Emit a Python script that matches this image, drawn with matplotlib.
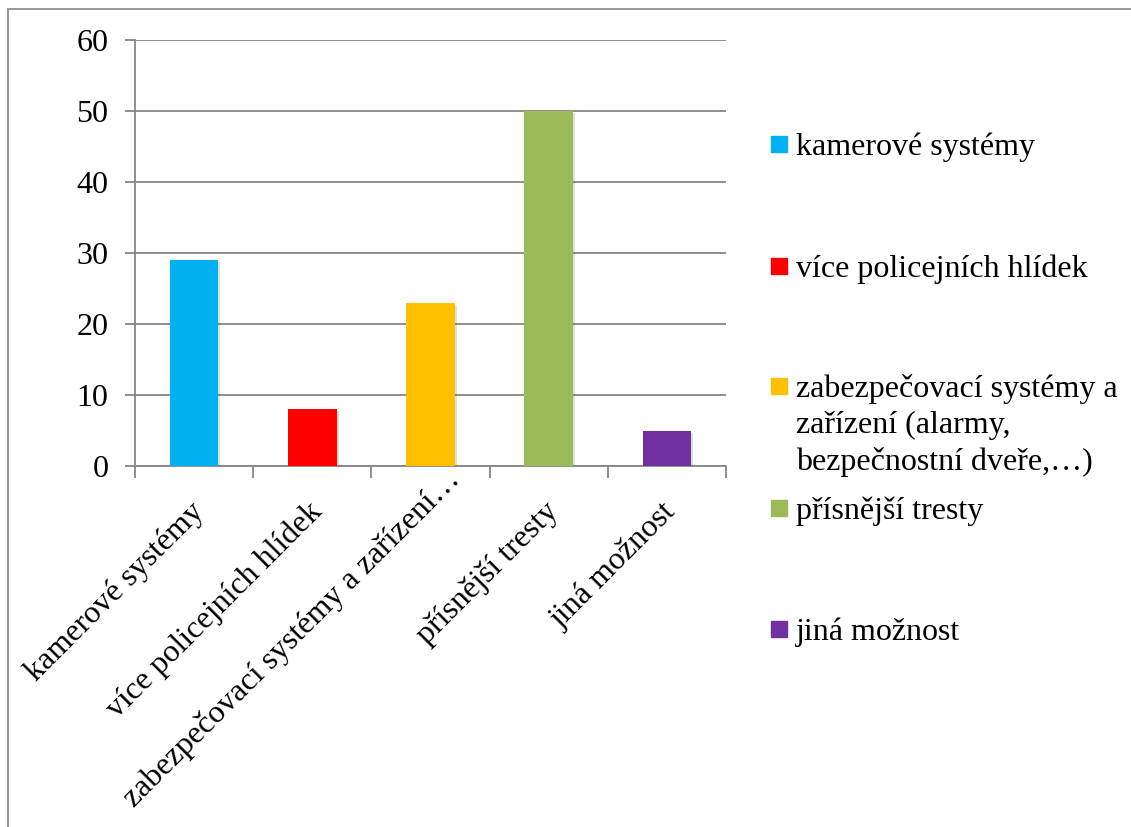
import matplotlib.pyplot as plt
import matplotlib.patheffects as pe
from matplotlib.patches import Rectangle
from matplotlib.transforms import ScaledTranslation
import numpy as np

tick_labels = ["kamerové systémy", "více policejních hlídek",
               "zabezpečovací systémy a zařízení…",
               "přísnější tresty", "jiná možnost"]
legend_labels = ["kamerové systémy", "více policejních hlídek",
                 "zabezpečovací systémy a\nzařízení (alarmy,\nbezpečnostní dveře,…)",
                 "přísnější tresty", "jiná možnost"]
values = [29, 8, 23, 50, 5]
colors = ["#00B0F0", "#FF0000", "#FFC000", "#9BBB59", "#7030A0"]

W, H = 1131, 827
plt.rcParams['font.family'] = ['Liberation Serif', 'DejaVu Serif']
fig = plt.figure(figsize=(W / 100, H / 100), dpi=100)

grey = "#868686"

# outer chart border (cut off at right and bottom like the source)
fig.patches.append(Rectangle((8 / W, -0.05), 1.1, (H - 9) / H + 0.05,
                             transform=fig.transFigure, fill=False,
                             edgecolor=grey, linewidth=1.2))

ax = fig.add_axes([135 / W, (H - 466) / H, (726 - 135) / W, (466 - 40) / H])
x = np.arange(len(values))
bars = ax.bar(x, values, width=0.41, color=colors, zorder=3)
for b in bars:
    b.set_path_effects([pe.SimplePatchShadow(offset=(1.5, -1.5), alpha=0.15),
                        pe.Normal()])

ax.set_xlim(-0.5, len(values) - 0.5)
ax.set_ylim(0, 60)
ax.set_yticks(range(0, 61, 10))
ax.yaxis.grid(True, color=grey, linewidth=1.3, zorder=0)
ax.tick_params(axis='y', length=7.2, width=1.3, color=grey, labelsize=23, pad=12)

ax.set_xticks(x)
ax.set_xticklabels(tick_labels, rotation=45, ha='right', va='center',
                   rotation_mode='anchor', fontsize=23)
ax.tick_params(axis='x', which='major', length=0, pad=26)
for i, lbl in enumerate(ax.get_xticklabels()):
    # the truncated label sits further up, as Excel draws it
    dx, dy = (0.25, 0.27) if i == 2 else (0.05, -0.05)
    lbl.set_transform(lbl.get_transform() + ScaledTranslation(dx, dy, fig.dpi_scale_trans))
ax.set_xticks(np.arange(-0.5, len(values), 1), minor=True)
ax.tick_params(axis='x', which='minor', length=8.6, width=1.3, color=grey)

for s in ['top', 'right']:
    ax.spines[s].set_visible(False)
for s in ['left', 'bottom']:
    ax.spines[s].set_color(grey)
    ax.spines[s].set_linewidth(1.3)

# legend placed like the Excel one
marker_y = [144, 266, 386, 508, 629]
line_h = 36.5
for lab, c, yy in zip(legend_labels, colors, marker_y):
    fig.patches.append(Rectangle((771 / W, (H - yy - 8) / H), 16 / W, 16 / H,
                                 transform=fig.transFigure, color=c))
    for i, line in enumerate(lab.split("\n")):
        fig.text(796 / W, (H - yy - 11 - i * line_h) / H, line, fontsize=23,
                 va='baseline', ha='left')

fig.savefig("out.png", dpi=100)
